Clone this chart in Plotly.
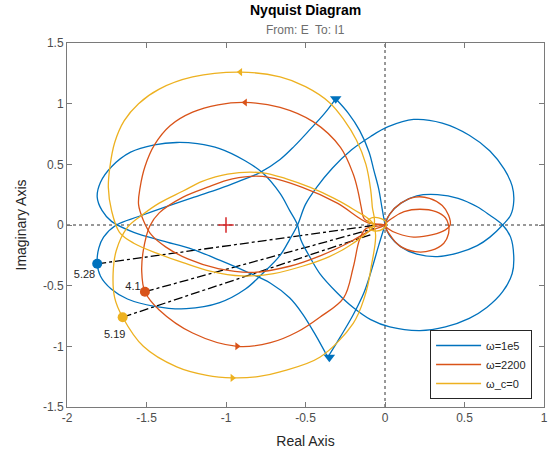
import plotly.graph_objects as go

# ---------------- data ----------------
# blue curve (omega = 1e5), segments separated by None
blue_x = [0, -0.02, -0.04, -0.07, -0.10, -0.16, -0.23, -0.31, None,
          -0.31, -0.38, -0.47, -0.57, -0.66, -0.79, -0.92, -1.04, -1.20, -1.38, -1.55, -1.69, -1.77, -1.80, -1.81,
          -1.79, -1.72, -1.62, -1.45, -1.25, -1.04, -0.88, -0.77, -0.66, -0.60, -0.55, -0.50, -0.43, -0.33, -0.21,
          -0.09, 0.02, 0.18, 0.36, 0.53, 0.66, 0.75, 0.80, 0.81, 0.79, 0.74, 0.66, 0.58, 0.46, 0.33, 0.20, 0.10, 0.03, 0, None,
          0, 0.03, 0.10, 0.20, 0.33, 0.46, 0.58, 0.66, 0.74, 0.79, 0.81, 0.80, 0.74, 0.64, 0.53, 0.38, 0.22, 0.03, -0.09,
          -0.20, -0.30, -0.41, -0.47, -0.53, -0.55, -0.60, -0.66, -0.77, -0.88, -1.04, -1.18, -1.31, -1.45, -1.60, -1.72,
          -1.79, -1.81, -1.78, -1.72, -1.58, -1.40, -1.21, -1.04, -0.88, -0.72, -0.60, -0.52, -0.44, -0.36, None,
          -0.36, -0.28, -0.20, -0.13, -0.08, -0.04, 0]
blue_y = [0, 0.15, 0.30, 0.45, 0.60, 0.78, 0.92, 1.04, None,
          1.04, 0.92, 0.79, 0.65, 0.54, 0.43, 0.36, 0.30, 0.23, 0.15, 0.07, 0.0, -0.10, -0.19, -0.31,
          -0.42, -0.53, -0.61, -0.67, -0.69, -0.64, -0.53, -0.40, -0.25, -0.12, 0, 0.17, 0.31, 0.47, 0.62,
          0.73, 0.81, 0.87, 0.84, 0.74, 0.61, 0.46, 0.32, 0.20, 0.08, 0, -0.10, -0.17, -0.23, -0.26, -0.24, -0.18, -0.09, 0, None,
          0, 0.09, 0.18, 0.24, 0.25, 0.22, 0.15, 0.08, 0, -0.10, -0.27, -0.40, -0.55, -0.68, -0.77, -0.84, -0.87, -0.84, -0.78,
          -0.68, -0.56, -0.40, -0.27, -0.12, 0, 0.12, 0.26, 0.43, 0.53, 0.63, 0.67, 0.68, 0.66, 0.60, 0.48,
          0.35, 0.23, 0.12, 0.03, -0.06, -0.13, -0.20, -0.29, -0.38, -0.48, -0.60, -0.73, -0.90, -1.09, None,
          -1.09, -0.92, -0.74, -0.55, -0.35, -0.17, 0]

# red curve (omega = 2200)
red_x = [0, -0.07, -0.13, -0.15, -0.17, -0.20, -0.28, -0.45, -0.66, -0.88, -1.05, -1.21, -1.35, -1.45, -1.51, -1.54,
         -1.55, -1.52, -1.47, -1.38, -1.24, -1.05, -0.83, -0.60, -0.40, -0.22, -0.10, 0, None,
         0, -0.11, -0.30, -0.52, -0.77, -0.96, -1.12, -1.27, -1.42, -1.48, -1.52, -1.53, -1.51, -1.42, -1.21, -0.93,
         -0.72, -0.55, -0.41, -0.26, -0.20, -0.16, -0.12, 0, None,
         0, 0.05, 0.12, 0.22, 0.32, 0.38, 0.40, 0.40, 0.37, 0.29, 0.19, 0.09, 0.03, 0, None,
         0, 0.03, 0.10, 0.19, 0.28, 0.36, 0.40, 0.41, 0.38, 0.30, 0.18, 0.08, 0.02, 0]
red_y = [0, 0.01, 0.05, 0.15, 0.28, 0.42, 0.64, 0.85, 0.97, 1.01, 0.99, 0.93, 0.82, 0.66, 0.48, 0.31,
         0.17, 0.04, -0.08, -0.18, -0.28, -0.36, -0.39, -0.34, -0.25, -0.14, -0.05, 0, None,
         0, 0.02, 0.18, 0.31, 0.40, 0.38, 0.31, 0.23, 0.10, -0.01, -0.21, -0.38, -0.55, -0.70, -0.89, -1.00,
         -0.97, -0.88, -0.76, -0.60, -0.35, -0.12, -0.03, 0, None,
         0, 0.06, 0.11, 0.13, 0.11, 0.06, 0.0, -0.07, -0.15, -0.21, -0.22, -0.17, -0.08, 0, None,
         0, 0.09, 0.18, 0.23, 0.22, 0.16, 0.08, 0.0, -0.04, -0.08, -0.10, -0.07, -0.03, 0]

# yellow curve (omega_c = 0)
yel_x = [-0.07, -0.08, -0.09, -0.12, -0.18, -0.26, -0.35, -0.50, -0.66, -0.91, -1.21, -1.42, -1.55, -1.64, -1.70,
         -1.73, -1.74, -1.72, -1.67, -1.58, -1.42, -1.27, -1.10, -0.90, -0.70, -0.52, -0.35, -0.20, -0.07, None,
         -0.07, -0.20, -0.32, -0.47, -0.62, -0.77, -0.99, -1.15, -1.27, -1.42, -1.53, -1.62, -1.69, -1.71, -1.70,
         -1.65, -1.52, -1.31, -1.12, -0.96, -0.80, -0.66, -0.41, -0.20, -0.13, -0.09, -0.07, None,
         -0.07, -0.11, -0.08, -0.02, 0.01, -0.01, -0.06, -0.10, -0.07]
yel_y = [0, 0.15, 0.29, 0.50, 0.70, 0.87, 1.01, 1.14, 1.22, 1.26, 1.22, 1.12, 1.00, 0.86, 0.68,
         0.48, 0.31, 0.12, -0.06, -0.15, -0.24, -0.31, -0.38, -0.42, -0.40, -0.34, -0.26, -0.15, 0, None,
         0, 0.13, 0.22, 0.31, 0.38, 0.43, 0.42, 0.36, 0.28, 0.18, 0.08, -0.02, -0.21, -0.40, -0.60,
         -0.76, -1.00, -1.17, -1.24, -1.26, -1.25, -1.21, -1.09, -0.81, -0.60, -0.37, 0, None,
         0, 0.03, 0.06, 0.05, 0.01, -0.03, -0.05, -0.03, 0]

# direction arrows: positions
blue_arrow_x = [-0.31, -0.35]
blue_arrow_y = [1.04, -1.09]
red_arrow_x = [-0.88, -0.93]
red_arrow_y = [1.01, -1.00]
yel_arrow_x = [-0.91, -0.96]
yel_arrow_y = [1.26, -1.26]

# marked points, their labels and the points the dash-dot lines go to
mark_x = [-1.81, -1.51, -1.65]
mark_y = [-0.32, -0.55, -0.76]
mark_labels = ["5.28", "4.1", "5.19"]
label_x = [-1.89, -1.585, -1.70]
label_y = [-0.41, -0.51, -0.91]
end_x = [-0.05, -0.07, -0.09]
end_y = [0.0, -0.03, -0.08]

series_names = ["\u03c9=1e5", "\u03c9=2200", "\u03c9_c=0"]
colors = ["#0072BD", "#D95319", "#EDB120"]

xticks = [-2, -1.5, -1, -0.5, 0, 0.5, 1]
yticks = [-1.5, -1, -0.5, 0, 0.5, 1, 1.5]

# ---------------- figure ----------------
fig = go.Figure()
FONT = "Liberation Sans, Arial, sans-serif"

# dash-dot lines (drawn below curves)
for i in range(3):
    fig.add_trace(go.Scatter(x=[mark_x[i], end_x[i]], y=[mark_y[i], end_y[i]], mode="lines",
                             line=dict(color="black", width=1.3, dash="dashdot"),
                             showlegend=False, hoverinfo="skip"))

curves = [(blue_x, blue_y), (red_x, red_y), (yel_x, yel_y)]
for (cx, cy), name, col in zip(curves, series_names, colors):
    fig.add_trace(go.Scatter(x=cx, y=cy, mode="lines", name=name,
                             line=dict(color=col, width=1.3, shape="spline", smoothing=1.0),
                             connectgaps=False, hoverinfo="skip"))

# arrows
fig.add_trace(go.Scatter(x=blue_arrow_x, y=blue_arrow_y, mode="markers", showlegend=False,
                         marker=dict(symbol="triangle-down", size=10, color=colors[0])))
fig.add_trace(go.Scatter(x=red_arrow_x, y=red_arrow_y, mode="markers", showlegend=False,
                         marker=dict(symbol=["triangle-left", "triangle-right"], size=7, color=colors[1])))
fig.add_trace(go.Scatter(x=yel_arrow_x, y=yel_arrow_y, mode="markers", showlegend=False,
                         marker=dict(symbol=["triangle-left", "triangle-right"], size=7, color=colors[2])))

# marked points
fig.add_trace(go.Scatter(x=mark_x, y=mark_y, mode="markers", showlegend=False,
                         marker=dict(symbol="circle", size=10, color=colors)))
fig.add_trace(go.Scatter(x=label_x, y=label_y, mode="text", text=mark_labels, showlegend=False,
                         textfont=dict(family=FONT, size=11, color="#262626")))

# critical point
fig.add_trace(go.Scatter(x=[-1], y=[0], mode="markers", showlegend=False,
                         marker=dict(symbol="cross-thin", size=11, line=dict(color="#D62728", width=1.5))))

# dotted zero lines
fig.add_shape(type="line", x0=-2, x1=1, y0=0, y1=0, line=dict(color="#333333", width=1, dash="dot"), layer="below")
fig.add_shape(type="line", x0=0, x1=0, y0=-1.5, y1=1.5, line=dict(color="#333333", width=1, dash="dot"), layer="below")

axis_common = dict(showgrid=False, zeroline=False, showline=True, linecolor="#7a7a7a", linewidth=1,
                   mirror="ticks", ticks="inside", ticklen=5, tickcolor="#7a7a7a", automargin=False,
                   tickfont=dict(family=FONT, size=12, color="#4d4d4d"))

fig.update_layout(
    width=554, height=457,
    margin=dict(l=67, r=10, t=43, b=50),
    paper_bgcolor="white", plot_bgcolor="white",
    hovermode=False,
    xaxis=dict(range=[-2, 1], tickvals=xticks, ticktext=[f"{v:g}" for v in xticks],
               title=dict(text="Real Axis", standoff=11, font=dict(family=FONT, size=14, color="#262626")),
               **axis_common),
    yaxis=dict(range=[-1.5, 1.5], tickvals=yticks, ticktext=[f"{v:g}" for v in yticks],
               title=dict(text="Imaginary Axis", standoff=13, font=dict(family=FONT, size=14, color="#262626")),
               **axis_common),
    legend=dict(x=0.975, y=0.022, xanchor="right", yanchor="bottom", bgcolor="white",
                bordercolor="#262626", borderwidth=1, font=dict(family=FONT, size=11, color="#262626"),
                tracegroupgap=0, itemwidth=45),
    annotations=[
        dict(text="<b>Nyquist Diagram</b>", xref="paper", yref="paper", x=0.5, y=(364 + 33) / 364,
             xanchor="center", yanchor="middle", showarrow=False,
             font=dict(family=FONT, size=14, color="black")),
        dict(text="From: E  To: I1", xref="paper", yref="paper", x=0.5, y=1.036,
             xanchor="center", yanchor="middle", showarrow=False,
             font=dict(family=FONT, size=12, color="#6e6e6e"))],
)

fig.write_html("out.html", config={"displayModeBar": False},
               post_script="document.body.style.margin='0px';")
